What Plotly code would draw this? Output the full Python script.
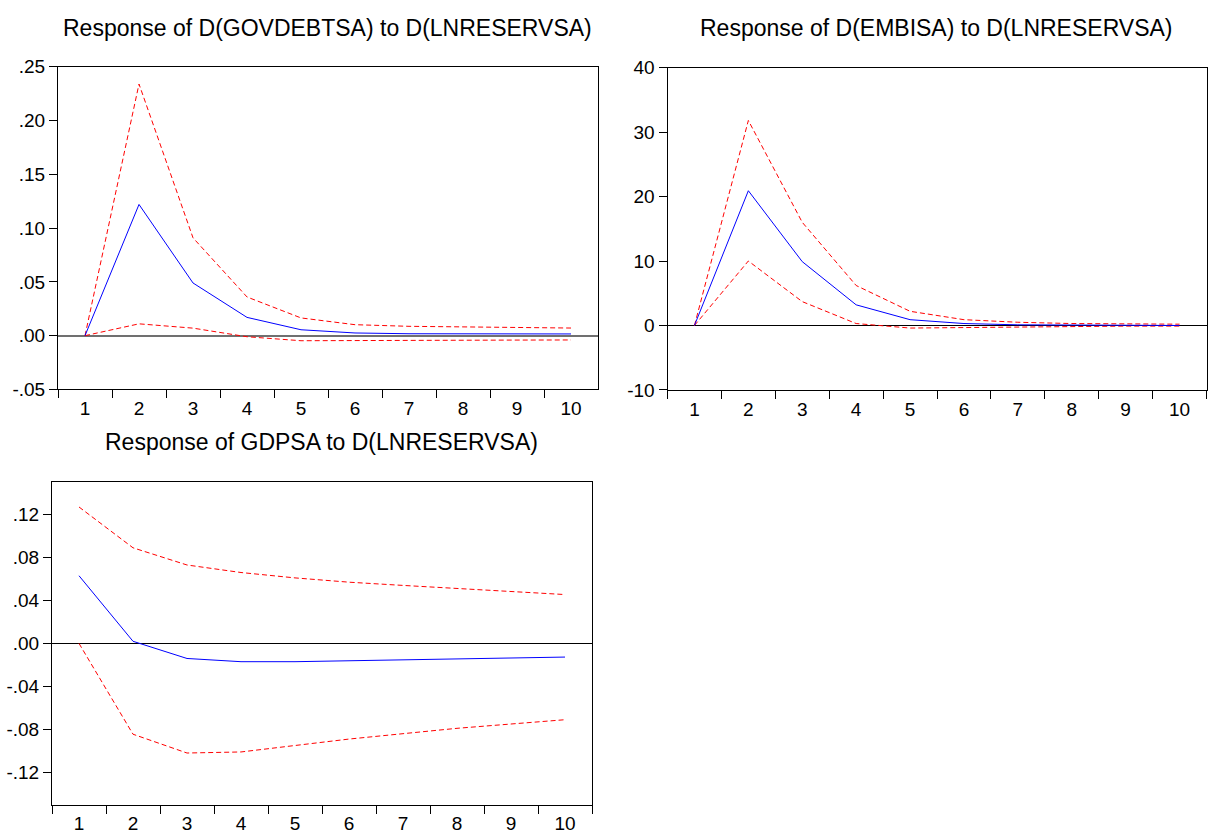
import plotly.graph_objects as go

periods = ["1", "2", "3", "4", "5", "6", "7", "8", "9", "10"]

# Panel 1: Response of D(GOVDEBTSA) to D(LNRESERVSA)
gov_resp = [0.0, 0.122, 0.049, 0.017, 0.0055, 0.0025, 0.0018, 0.0016, 0.0016, 0.0016]
gov_upper = [0.0, 0.234, 0.091, 0.036, 0.0165, 0.0102, 0.0087, 0.0080, 0.0075, 0.0071]
gov_lower = [0.0, 0.011, 0.007, -0.001, -0.0047, -0.0047, -0.0045, -0.0043, -0.0041, -0.0040]

# Panel 2: Response of D(EMBISA) to D(LNRESERVSA)
emb_resp = [0.0, 20.9, 9.9, 3.2, 0.9, 0.3, 0.1, 0.05, 0.0, 0.0]
emb_upper = [0.0, 31.8, 16.0, 6.2, 2.2, 0.9, 0.5, 0.3, 0.25, 0.2]
emb_lower = [0.0, 10.0, 3.7, 0.3, -0.4, -0.3, -0.2, -0.15, -0.1, -0.1]

# Panel 3: Response of GDPSA to D(LNRESERVSA)
gdp_resp = [0.063, 0.002, -0.014, -0.017, -0.017, -0.016, -0.015, -0.014, -0.0135, -0.0127]
gdp_upper = [0.127, 0.089, 0.073, 0.066, 0.061, 0.057, 0.054, 0.051, 0.048, 0.0455]
gdp_lower = [0.0, -0.0845, -0.102, -0.101, -0.095, -0.089, -0.084, -0.079, -0.075, -0.071]

titles = [
    "Response of D(GOVDEBTSA) to D(LNRESERVSA)",
    "Response of D(EMBISA) to D(LNRESERVSA)",
    "Response of GDPSA to D(LNRESERVSA)",
]

y1_vals = [-0.05, 0.0, 0.05, 0.10, 0.15, 0.20, 0.25]
y1_text = ["-.05", ".00", ".05", ".10", ".15", ".20", ".25"]
y2_vals = [-10, 0, 10, 20, 30, 40]
y2_text = ["-10", "0", "10", "20", "30", "40"]
y3_vals = [-0.12, -0.08, -0.04, 0.0, 0.04, 0.08, 0.12]
y3_text = ["-.12", "-.08", "-.04", ".00", ".04", ".08", ".12"]

W = 1208
H = 839
YOFF = 8.6       # observed vertical page offset in the photograph
YSCALE = 0.98    # observed vertical scale in the photograph
FONT = "Liberation Sans, Arial, sans-serif"
TICK_SIZE = 19
TITLE_SIZE = 23


def py(t):
    """target pixel row -> paper fraction"""
    return 1 - ((t - YOFF) / YSCALE) / H


fig = go.Figure()

panels = [
    dict(resp=gov_resp, up=gov_upper, lo=gov_lower, xa="x", ya="y"),
    dict(resp=emb_resp, up=emb_upper, lo=emb_lower, xa="x2", ya="y2"),
    dict(resp=gdp_resp, up=gdp_upper, lo=gdp_lower, xa="x3", ya="y3"),
]

for p in panels:
    for series, color, dash in [(p["up"], "#ff0000", "5px,3px"),
                                (p["lo"], "#ff0000", "5px,3px"),
                                (p["resp"], "#0000ff", "solid")]:
        fig.add_trace(go.Scatter(
            x=periods, y=series, mode="lines",
            line=dict(color=color, width=1, dash=dash),
            xaxis=p["xa"], yaxis=p["ya"], showlegend=False, hoverinfo="skip",
        ))


def xaxis_cfg(domain, anchor):
    return dict(
        domain=domain, anchor=anchor, type="category",
        range=[-0.5, 9.5], tickson="boundaries",
        ticks="outside", ticklen=8, tickcolor="black", tickwidth=1,
        ticklabelstandoff=2,
        showline=True, mirror=True, linecolor="black", linewidth=1,
        showgrid=False, zeroline=False,
        tickfont=dict(family=FONT, size=TICK_SIZE, color="black"),
    )


def yaxis_cfg(domain, anchor, rng, vals, text, zcolor, zwidth):
    return dict(
        domain=domain, anchor=anchor, range=rng,
        tickvals=vals, ticktext=text,
        ticks="outside", ticklen=8, tickcolor="black", tickwidth=1,
        showline=True, mirror=True, linecolor="black", linewidth=1,
        showgrid=False, zeroline=True, zerolinecolor=zcolor, zerolinewidth=zwidth,
        tickfont=dict(family=FONT, size=TICK_SIZE, color="black"),
    )


d1x = [58 / W, 598 / W]
d1y = [py(390), py(65.7)]
d2x = [667.5 / W, 1206.5 / W]
d2y = [py(390.5), py(66.5)]
d3x = [52 / W, 592 / W]
d3y = [py(807.3), py(483.3)]

fig.update_layout(
    width=W, height=H, autosize=False,
    margin=dict(l=0, r=0, t=0, b=0),
    paper_bgcolor="white", plot_bgcolor="white",
    font=dict(family=FONT, color="black"),
    xaxis=xaxis_cfg(d1x, "y"),
    yaxis=yaxis_cfg(d1y, "x", [-0.05, 0.25], y1_vals, y1_text, "#707070", 2),
    xaxis2=xaxis_cfg(d2x, "y2"),
    yaxis2=yaxis_cfg(d2y, "x2", [-10, 40], y2_vals, y2_text, "black", 1),
    xaxis3=xaxis_cfg(d3x, "y3"),
    yaxis3=yaxis_cfg(d3y, "x3", [-0.15, 0.15], y3_vals, y3_text, "black", 1),
    annotations=[
        dict(text=titles[0], x=327.5 / W, y=py(27), xref="paper", yref="paper",
             xanchor="center", yanchor="middle", showarrow=False,
             font=dict(family=FONT, size=TITLE_SIZE, color="black")),
        dict(text=titles[1], x=936 / W, y=py(27), xref="paper", yref="paper",
             xanchor="center", yanchor="middle", showarrow=False,
             font=dict(family=FONT, size=TITLE_SIZE, color="black")),
        dict(text=titles[2], x=321 / W, y=py(443), xref="paper", yref="paper",
             xanchor="center", yanchor="middle", showarrow=False,
             font=dict(family=FONT, size=TITLE_SIZE, color="black")),
    ],
)

fig.write_html(
    "out.html",
    config={"displayModeBar": False},
    post_script="document.body.style.margin='0';document.body.style.overflow='hidden';",
)
